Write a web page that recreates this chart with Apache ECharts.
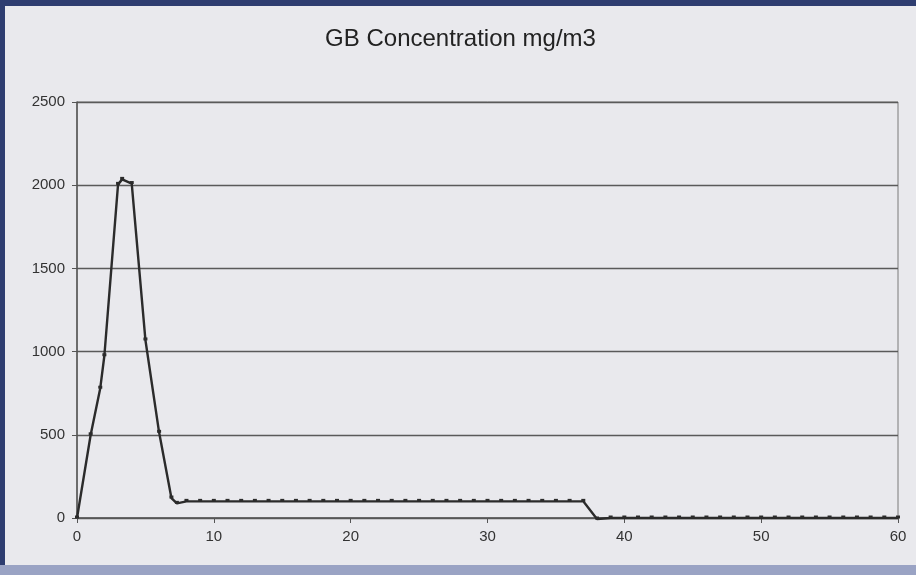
<!DOCTYPE html>
<html>
<head>
<meta charset="utf-8">
<script src="https://cdn.jsdelivr.net/npm/echarts@6/dist/echarts.min.js"></script>
<style>
  html, body { margin: 0; padding: 0; }
  body { width: 916px; height: 575px; background: #2e3d70; position: relative; overflow: hidden; }
  #bottomBand { position: absolute; left: 0; top: 565px; width: 916px; height: 10px; background: #9aa3c4; }
  #chart { position: absolute; left: 5px; top: 6px; width: 911px; height: 559px; background: #e9e9ed; }
</style>
</head>
<body>
<div id="bottomBand"></div>
<div id="chart"></div>
<script>
// time in minutes (irregular near the peak)
const minutes = [
  0, 1, 1.7, 2, 3, 3.3, 4, 5, 6, 6.9, 7.3,
  8, 9, 10, 11, 12, 13, 14, 15, 16, 17, 18, 19, 20, 21, 22, 23, 24, 25, 26, 27,
  28, 29, 30, 31, 32, 33, 34, 35, 36, 37,
  38, 39, 40, 41, 42, 43, 44, 45, 46, 47, 48, 49, 50, 51, 52, 53, 54, 55, 56, 57,
  58, 59, 60
];
// GB concentration, mg/m3
const concentration = [
  0, 500, 780, 975, 2005, 2035, 2010, 1070, 515, 120, 88,
  100, 100, 100, 100, 100, 100, 100, 100, 100, 100, 100, 100, 100, 100, 100, 100, 100, 100, 100, 100,
  100, 100, 100, 100, 100, 100, 100, 100, 100, 100,
  -6, 0, 0, 0, 0, 0, 0, 0, 0, 0, 0, 0, 0, 0, 0, 0, 0, 0, 0, 0,
  0, 0, 0
];
const yTicks = [0, 500, 1000, 1500, 2000, 2500];
const xTicks = [0, 10, 20, 30, 40, 50, 60];

const chart = echarts.init(document.getElementById('chart'));
const font = '"Liberation Sans", Arial, sans-serif';

chart.setOption({
  animation: false,
  title: {
    text: 'GB Concentration mg/m3',
    left: 'center',
    top: 16,
    textStyle: { fontFamily: font, fontSize: 24, fontWeight: 'normal', color: '#222' }
  },
  grid: {
    left: 72, right: 18, top: 96, bottom: 47,
    show: true, borderColor: '#7a7a7a', borderWidth: 1, backgroundColor: 'transparent'
  },
  xAxis: {
    type: 'value',
    min: xTicks[0], max: xTicks[xTicks.length - 1], interval: 10,
    axisLine: { show: true, lineStyle: { color: '#555', width: 1.5 } },
    axisTick: { show: true, length: 5, lineStyle: { color: '#555' } },
    axisLabel: { margin: 11, color: '#333', fontSize: 15, fontFamily: font },
    splitLine: { show: false }
  },
  yAxis: {
    type: 'value',
    min: yTicks[0], max: yTicks[yTicks.length - 1], interval: 500,
    axisLine: { show: true, lineStyle: { color: '#555', width: 1.5 } },
    axisTick: { show: true, length: 5, lineStyle: { color: '#555' } },
    axisLabel: { margin: 12, color: '#333', fontSize: 15, fontFamily: font, formatter: (v) => String(v) },
    splitLine: { show: true, lineStyle: { color: '#5a5a5a', width: 1.3 } }
  },
  series: [{
    type: 'line',
    data: minutes.map((m, i) => [m, concentration[i]]),
    lineStyle: { color: '#2b2b2b', width: 2.4 },
    itemStyle: { color: '#2b2b2b' },
    symbol: 'rect',
    symbolSize: [4, 3],
    symbolOffset: [0, -1],
    showSymbol: true,
    clip: false
  }]
});
</script>
</body>
</html>
